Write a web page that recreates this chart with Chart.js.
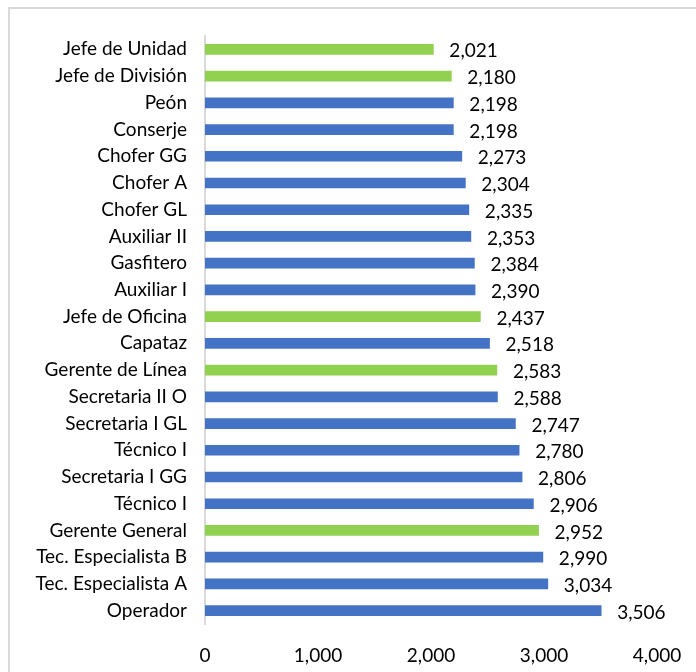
<!DOCTYPE html>
<html>
<head>
<meta charset="utf-8">
<script src="https://cdn.jsdelivr.net/npm/chart.js@4.4.1/dist/chart.umd.min.js"></script>
<style>
  html, body { margin: 0; padding: 0; background: #fff; overflow: hidden; }
  #wrap { position: relative; width: 696px; height: 672px; }
  #frame { position: absolute; left: 8px; top: 7px; width: 720px; height: 700px; border: 2px solid #d9d9d9; box-sizing: border-box; }
  canvas { position: absolute; left: 0; top: 0; }
</style>
</head>
<body>
<div id="wrap">
  <div id="frame"></div>
  <canvas id="chart" width="696" height="672"></canvas>
</div>
<script>
const categories = [
  "Jefe de Unidad", "Jefe de División", "Peón", "Conserje", "Chofer GG",
  "Chofer A", "Chofer GL", "Auxiliar II", "Gasfitero", "Auxiliar I",
  "Jefe de Oficina", "Capataz", "Gerente de Línea", "Secretaria II O",
  "Secretaria I GL", "Técnico I", "Secretaria I GG", "Técnico I",
  "Gerente General", "Tec. Especialista B", "Tec. Especialista A", "Operador"
];
const values = [
  2021, 2180, 2198, 2198, 2273, 2304, 2335, 2353, 2384, 2390,
  2437, 2518, 2583, 2588, 2747, 2780, 2806, 2906, 2952, 2990, 3034, 3506
];
// puestos de jefatura / gerencia en verde
const highlighted = ["Jefe de Unidad", "Jefe de División", "Jefe de Oficina", "Gerente de Línea", "Gerente General"];
const xTicks = [0, 1000, 2000, 3000, 4000];

const fontFamily = "Lato, 'Open Sans', sans-serif";
const fmt = (v) => v.toLocaleString("en-US");

const barColors = categories.map((c) => highlighted.includes(c) ? "#92d050" : "#4472c4");

// etiquetas de valor al final de cada barra
const valueLabels = {
  id: "valueLabels",
  afterDatasetsDraw(chart) {
    const ctx = chart.ctx;
    const meta = chart.getDatasetMeta(0);
    ctx.save();
    ctx.font = "19px " + fontFamily;
    ctx.fillStyle = "#000";
    ctx.textAlign = "left";
    ctx.textBaseline = "middle";
    meta.data.forEach((bar, i) => {
      ctx.fillText(fmt(values[i]), bar.x + 16, bar.y + 2);
    });
    ctx.restore();
  }
};

new Chart(document.getElementById("chart").getContext("2d"), {
  type: "bar",
  data: {
    labels: categories,
    datasets: [{
      data: values,
      backgroundColor: barColors,
      barThickness: 10,
    }]
  },
  options: {
    indexAxis: "y",
    responsive: false,
    animation: false,
    layout: { padding: { top: 36, right: 39, left: 0, bottom: 0 } },
    plugins: {
      legend: { display: false },
      tooltip: { enabled: false },
    },
    scales: {
      x: {
        min: 0,
        max: 4000,
        afterBuildTicks: (scale) => { scale.ticks = xTicks.map((v) => ({ value: v })); },
        afterFit: (scale) => {
          scale.height = 48;
          scale.paddingLeft = 0;
          scale.paddingRight = 0;
        },
        grid: { display: false, drawTicks: false },
        border: { display: false },
        ticks: {
          padding: 20,
          color: "#000",
          font: { family: fontFamily, size: 19 },
          callback: (v) => fmt(v),
          maxRotation: 0,
        },
      },
      y: {
        afterFit: (scale) => {
          scale.width = 205;
          scale.paddingTop = 0;
          scale.paddingBottom = 0;
        },
        grid: { display: false, drawTicks: false },
        border: { display: true, color: "#d9d9d9", width: 2 },
        ticks: {
          padding: 18,
          color: "#000",
          autoSkip: false,
          font: { family: fontFamily, size: 19 },
        },
      },
    },
  },
  plugins: [valueLabels],
});
</script>
</body>
</html>
